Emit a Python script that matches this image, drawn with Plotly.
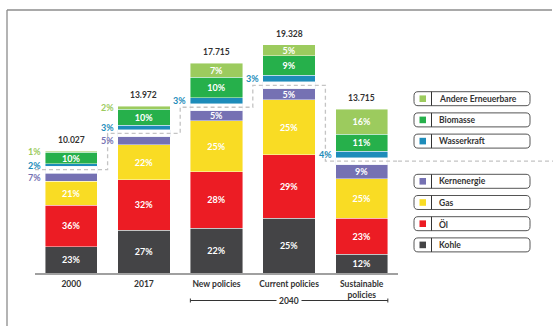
import plotly.graph_objects as go

# ---------------- data ----------------
categories = ["2000", "2017", "New policies", "Current policies", "Sustainable<br>policies"]
totals = [10027, 13972, 17715, 19328, 13715]
series_names = ["Kohle", "Öl", "Gas", "Kernenergie", "Wasserkraft", "Biomasse", "Andere Erneuerbare"]
kohle = [23, 27, 22, 25, 12]
oel = [36, 32, 28, 29, 23]
gas = [21, 22, 25, 25, 25]
kern = [7, 5, 5, 5, 9]
wasser = [2, 3, 3, 3, 4]
bio = [10, 10, 10, 9, 11]
andere = [1, 2, 7, 5, 16]
colors = ["#444446", "#ec1c24", "#f9dc24", "#7571b3", "#1d8cba", "#26b04b", "#9ccb5e"]
GAP = 600          # visual gap between conventional and renewable parts
SMALL = 800        # segments smaller than this get their label outside

# ---------------- layout constants ----------------
W, H = 553, 326
ML, MR, MT, MB = 35, 155, 20, 53
PW, PH = W - ML - MR, H - MT - MB
UNITS_PER_PX = 87.3
FONT = "Lato"
DARK = "#333333"
HALF = 0.36


def px2x(px):
    return (px - ML) / PW


def px2y(py):
    return (MT + PH - py) / PH


shares = [kohle, oel, gas, kern, wasser, bio, andere]
xs = list(range(len(categories)))
values = []
for s in shares:
    values.append([totals[i] * s[i] / sum(sh[i] for sh in shares) for i in xs])

fig = go.Figure()
annotations = []
shapes = []

cum = [0.0] * len(xs)
gap_mid = []
order = [0, 1, 2, 3, None, 4, 5, 6]
for k in order:
    if k is None:
        gap_mid = [c + GAP / 2 for c in cum]
        fig.add_trace(go.Bar(x=xs, y=[GAP] * len(xs), marker=dict(color="rgba(0,0,0,0)"),
                             hoverinfo="skip", showlegend=False))
        cum = [c + GAP for c in cum]
        continue
    vals = values[k]
    txt = [f"{shares[k][i]}%" if vals[i] >= SMALL else "" for i in xs]
    fig.add_trace(go.Bar(
        x=xs, y=vals, name=series_names[k],
        marker=dict(color=colors[k], line=dict(color="rgba(255,255,255,0.55)", width=0.8)),
        text=txt, textposition="inside", insidetextanchor="middle", textangle=0,
        constraintext="none",
        textfont=dict(color="white", size=9, family=FONT, weight=700),
        showlegend=False, hoverinfo="skip"))
    for i in xs:
        if vals[i] < SMALL:
            annotations.append(dict(
                x=i - HALF, y=cum[i] + vals[i] / 2, xref="x", yref="y",
                text=f"{shares[k][i]}%", showarrow=False, xanchor="right", yanchor="middle", xshift=-2,
                font=dict(color=colors[k], size=9, family=FONT, weight=700)))
    cum = [cum[i] + vals[i] for i in xs]

# totals above bars
for i in xs:
    annotations.append(dict(
        x=i, y=cum[i], xref="x", yref="y", text=f"{totals[i]:,}".replace(",", "."),
        showarrow=False, yanchor="bottom", yshift=4,
        font=dict(color=DARK, size=8.5, family=FONT, weight=700)))

# dashed staircase through the gaps
step_x = [i - 0.5 for i in xs] + [xs[-1] + 0.5]
step_y = gap_mid + [gap_mid[-1]]
fig.add_trace(go.Scatter(x=step_x, y=step_y, mode="lines", line_shape="hv",
                         line=dict(color="#c4c4c4", width=1.3, dash="4px,3px"),
                         hoverinfo="skip", showlegend=False))
shapes.append(dict(type="line", xref="paper", yref="y", x0=1, x1=px2x(W), y0=gap_mid[-1], y1=gap_mid[-1],
                   line=dict(color="#c4c4c4", width=1.3, dash="4px,3px")))

# frame lines
shapes.append(dict(type="line", xref="paper", yref="paper", x0=px2x(7), x1=px2x(552), y0=px2y(10), y1=px2y(10),
                   line=dict(color="#8c8c8c", width=1.3)))
shapes.append(dict(type="line", xref="paper", yref="paper", x0=px2x(7), x1=px2x(7), y0=px2y(10), y1=px2y(H),
                   line=dict(color="#8c8c8c", width=1.3)))

# 2040 bracket
by = px2y(300.5)
shapes.append(dict(type="line", xref="x", yref="paper", x0=2 - HALF, x1=4 + HALF, y0=by, y1=by,
                   line=dict(color=DARK, width=1)))
for xe in (2 - HALF, 4 + HALF):
    shapes.append(dict(type="line", xref="x", yref="paper", x0=xe, x1=xe, y0=px2y(298.5), y1=px2y(302.5),
                       line=dict(color=DARK, width=1)))
annotations.append(dict(x=3, y=by, xref="x", yref="paper", text="2040", showarrow=False,
                        xanchor="center", yanchor="middle", bgcolor="white", borderpad=2,
                        font=dict(color=DARK, size=8.5, family=FONT, weight=700)))


# custom legend
def rrect(x0, y0, x1, y1, r):
    pts = [("M", [(x0 + r, y0)]), ("L", [(x1 - r, y0)]), ("Q", [(x1, y0), (x1, y0 + r)]),
           ("L", [(x1, y1 - r)]), ("Q", [(x1, y1), (x1 - r, y1)]), ("L", [(x0 + r, y1)]),
           ("Q", [(x0, y1), (x0, y1 - r)]), ("L", [(x0, y0 + r)]), ("Q", [(x0, y0), (x0 + r, y0)])]
    out = ""
    for cmd, ps in pts:
        out += cmd + " ".join(f"{px2x(a):.5f},{px2y(b):.5f}" for a, b in ps) + " "
    return out + "Z"


legend_groups = [([6, 5, 4], 98.7), ([3, 2, 1, 0], 181.3)]
for idxs, start in legend_groups:
    for j, k in enumerate(idxs):
        cy = start + j * 21.2
        shapes.append(dict(type="path", xref="paper", yref="paper", path=rrect(414, cy - 7, 530, cy + 7, 4),
                           line=dict(color="#555555", width=1)))
        shapes.append(dict(type="rect", xref="paper", yref="paper", x0=px2x(419.5), x1=px2x(426),
                           y0=px2y(cy + 3.3), y1=px2y(cy - 3.3), fillcolor=colors[k], line=dict(width=0)))
        shapes.append(dict(type="line", xref="paper", yref="paper", x0=px2x(431.5), x1=px2x(431.5),
                           y0=px2y(cy - 7), y1=px2y(cy + 7), line=dict(color="#333333", width=1)))
        annotations.append(dict(x=px2x(437), y=px2y(cy), xref="paper", yref="paper", text=series_names[k],
                                showarrow=False, xanchor="left", yanchor="middle",
                                font=dict(color=DARK, size=8.5, family=FONT, weight=700)))

fig.update_layout(
    width=W, height=H, margin=dict(l=ML, r=MR, t=MT, b=MB, pad=0),
    barmode="stack", bargap=1 - 2 * HALF,
    paper_bgcolor="white", plot_bgcolor="white",
    showlegend=False,
    xaxis=dict(range=[-0.5, 4.5], tickmode="array", tickvals=xs, ticktext=categories,
               showgrid=False, zeroline=False, showline=True, linecolor="#a0a0a0", linewidth=1.5,
               ticks="", ticklabelstandoff=2, automargin=False,
               tickfont=dict(color=DARK, size=8.5, family=FONT, weight=700)),
    yaxis=dict(range=[0, PH * UNITS_PER_PX], visible=False, showgrid=False, zeroline=False),
    annotations=annotations, shapes=shapes,
)

fig.write_html("out.html")
